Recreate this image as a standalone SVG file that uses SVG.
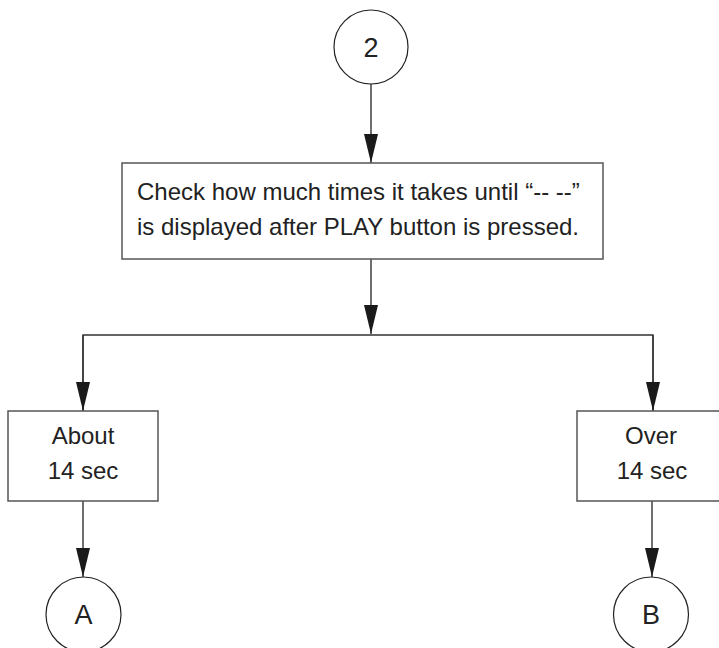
<svg xmlns="http://www.w3.org/2000/svg" width="719" height="648" viewBox="0 0 719 648">
<style>
.box{fill:#fff;stroke:#555;stroke-width:1.5}
.circ{fill:#fff;stroke:#222;stroke-width:1.2}
.ln{fill:none;stroke:#333;stroke-width:1.4}
.t{font-family:"Liberation Sans",Arial,sans-serif;font-size:24px;fill:#222}
.big{font-size:27px}
.c{text-anchor:middle}
</style>
<defs>
<marker id="ah" markerUnits="userSpaceOnUse" markerWidth="30" markerHeight="16" refX="29" refY="7" orient="auto">
<path d="M0,0 L29,7 L0,14 Z" fill="#1a1a1a"/>
</marker>
</defs>
<rect width="719" height="648" fill="#fff"/>
<g id="connectors">
<line class="ln" x1="371" y1="84" x2="371" y2="163" marker-end="url(#ah)"/>
<line class="ln" x1="371" y1="259" x2="371" y2="334" marker-end="url(#ah)"/>
<polyline class="ln" points="83,411 83,335 653,335 653,411"/>
<line class="ln" x1="83" y1="335" x2="83" y2="411" marker-end="url(#ah)"/>
<line class="ln" x1="653" y1="335" x2="653" y2="411" marker-end="url(#ah)"/>
<line class="ln" x1="83" y1="501" x2="83" y2="577" marker-end="url(#ah)"/>
<line class="ln" x1="652" y1="501" x2="652" y2="577" marker-end="url(#ah)"/>
</g>
<g id="start2">
<circle class="circ" cx="371" cy="47" r="37"/>
<text class="t big c" x="371" y="57">2</text>
</g>
<g id="check">
<rect class="box" x="122" y="163" width="481" height="96"/>
<text class="t" x="137" y="200">Check how much times it takes until “-- --”</text>
<text class="t" x="137" y="235">is displayed after PLAY button is pressed.</text>
</g>
<g id="about">
<rect class="box" x="8" y="411" width="150" height="90"/>
<text class="t c" x="83" y="444">About</text>
<text class="t c" x="83" y="479">14 sec</text>
</g>
<g id="over">
<rect class="box" x="577" y="411" width="150" height="90"/>
<text class="t c" x="651" y="444">Over</text>
<text class="t c" x="652" y="479">14 sec</text>
</g>
<g id="endA">
<circle class="circ" cx="83.5" cy="614.5" r="37.5"/>
<text class="t big c" x="83.5" y="624">A</text>
</g>
<g id="endB">
<circle class="circ" cx="651" cy="614.5" r="37.5"/>
<text class="t big c" x="651" y="624">B</text>
</g>
</svg>
